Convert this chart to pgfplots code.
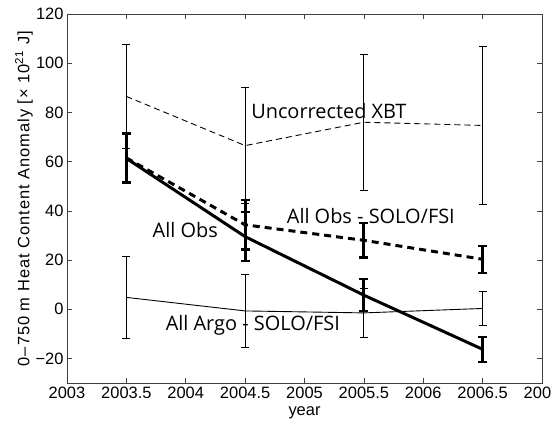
\documentclass[border=0pt]{standalone}
\usepackage{pgfplots}
\pgfplotsset{compat=1.18}
\usepackage{fontspec}
\setmainfont{Liberation Sans}
\newfontfamily\labfont{Open Sans}
\newfontfamily\ylabfont[LetterSpace=6]{Liberation Sans}
\newcommand\lab{\labfont\fontsize{20}{22}\selectfont}
\begin{document}
\begin{tikzpicture}[x=1bp,y=1bp]
\begin{axis}[
  scale only axis, width=475bp, height=369bp,
  xmin=2003, xmax=2007, ymin=-30, ymax=120,
  xtick={2003,2003.5,...,2007}, ytick={-20,0,20,40,60,80,100,120},
  yticklabels={−20,0,20,40,60,80,100,120},
  tick align=inside, tick pos=both,
  major tick length=5bp,
  axis line style={line width=0.8pt, black!75},
  tick style={black!75, line width=0.6pt},
  /pgf/number format/assume math mode=true,
  xticklabel style={/pgf/number format/.cd, 1000 sep={}, precision=1},
  ticklabel style={font=\fontsize{16.5}{18}\selectfont},
  xlabel style={font=\fontsize{16.5}{18}\selectfont},
  ylabel style={font=\ylabfont\fontsize{16.5}{18}\selectfont},
  xlabel={year}, ylabel={0–750 m Heat Content Anomaly [× 10\textsuperscript{21} J]},
  xlabel style={at={(rel axis cs:0.5,-0.0813)}, anchor=center},
  ylabel style={at={(rel axis cs:-0.0905,0.5)}, anchor=center},
  error bars/y dir=both, error bars/y explicit,
  error bars/error mark options={rotate=90, mark size=4bp},
  clip=false,
]
% Uncorrected XBT
\addplot[black, line width=0.9pt, dash pattern=on 6bp off 4bp,
  error bars/error bar style={solid, line width=0.9pt},
  error bars/error mark options={rotate=90, mark size=4bp, solid, line width=0.9pt}]
  coordinates {(2003.5,86.5) +- (0,21) (2004.5,66.5) +- (0,23.5) (2005.5,76) +- (0,27.7) (2006.5,74.7) +- (0,32.3)};
% All Argo - SOLO/FSI
\addplot[black, line width=0.9pt,
  error bars/error bar style={solid, line width=0.9pt},
  error bars/error mark options={rotate=90, mark size=4bp, solid, line width=0.9pt}]
  coordinates {(2003.5,4.8) +- (0,16.5) (2004.5,-0.7) +- (0,15) (2005.5,-1.5) +- (0,10) (2006.5,0.3) +- (0,7)};
% All Obs - SOLO/FSI
\addplot[black, line width=3pt, dash pattern=on 7bp off 5bp,
  error bars/error bar style={solid, line width=3pt},
  error bars/error mark options={rotate=90, mark size=4.5bp, solid, line width=2.2pt}]
  coordinates {(2003.5,61.5) +- (0,10) (2004.5,34.3) +- (0,10) (2005.5,28) +- (0,7) (2006.5,20.3) +- (0,5.5)};
% All Obs
\addplot[black, line width=3pt,
  error bars/error bar style={solid, line width=3pt},
  error bars/error mark options={rotate=90, mark size=4.5bp, solid, line width=2.2pt}]
  coordinates {(2003.5,61.3) +- (0,10) (2004.5,29.5) +- (0,10) (2005.5,5.7) +- (0,6.5) (2006.5,-16.3) +- (0,5)};
\node[anchor=west, inner sep=0pt, font=\lab] at (axis cs:2004.55,80.4) {Uncorrected XBT};
\node[anchor=west, inner sep=0pt, font=\lab] at (axis cs:2004.85,37.7) {All Obs - SOLO/FSI};
\node[anchor=west, inner sep=0pt, font=\lab] at (axis cs:2003.72,32) {All Obs};
\node[anchor=west, inner sep=0pt, font=\lab] at (axis cs:2003.83,-6.5) {All Argo - SOLO/FSI};
\coordinate (sw) at (rel axis cs:0,0);
\coordinate (ne) at (rel axis cs:1,1);
\end{axis}
\pgfresetboundingbox
\path ([xshift=-67bp,yshift=-42bp]sw) rectangle ([xshift=10bp,yshift=14bp]ne);
\end{tikzpicture}
\end{document}
